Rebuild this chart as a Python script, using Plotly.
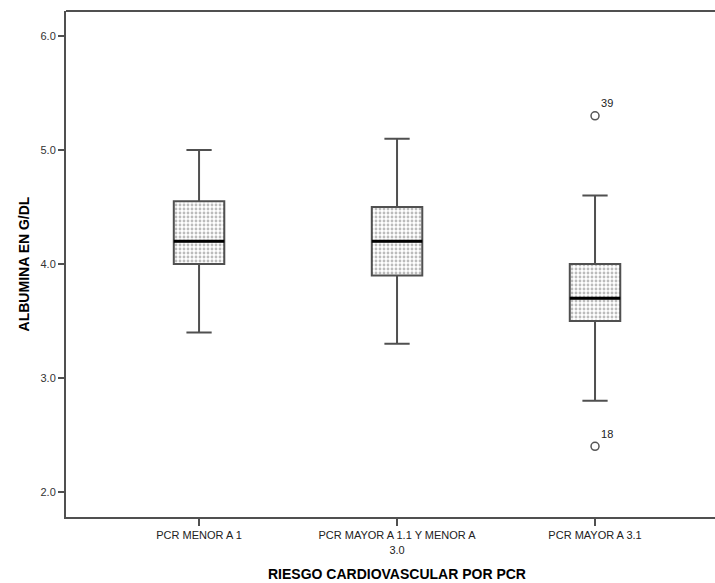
import plotly.graph_objects as go

categories = ["PCR MENOR A 1", "PCR MAYOR A 1.1 Y MENOR A<br>3.0", "PCR MAYOR A 3.1"]
lower_whisker = [3.4, 3.3, 2.8]
q1 = [4.0, 3.9, 3.5]
median = [4.2, 4.2, 3.7]
q3 = [4.55, 4.5, 4.0]
upper_whisker = [5.0, 5.1, 4.6]
outlier_cat = [2, 2]
outlier_val = [5.3, 2.4]
outlier_lbl = ["39", "18"]
y_ticks = [2.0, 3.0, 4.0, 5.0, 6.0]

xpos = list(range(len(categories)))
BW = 0.255
LINE = "#505050"

fig = go.Figure()

# dotted-pattern fill of the boxes
fig.add_trace(go.Bar(
    x=xpos, y=[b - a for a, b in zip(q1, q3)], base=q1, width=BW,
    marker=dict(color="white", line=dict(width=0),
                pattern=dict(shape=".", fgcolor="#7a7a7a", bgcolor="white",
                             size=4, solidity=0.4)),
    hoverinfo="skip", showlegend=False))

fig.add_trace(go.Box(
    x=xpos, q1=q1, median=median, q3=q3,
    lowerfence=lower_whisker, upperfence=upper_whisker,
    width=BW, whiskerwidth=0.5, boxpoints=False,
    fillcolor="rgba(0,0,0,0)", line=dict(color=LINE, width=2),
    showlegend=False))

# thick median lines
for i, m in enumerate(median):
    fig.add_trace(go.Scatter(
        x=[xpos[i] - BW / 2, xpos[i] + BW / 2], y=[m, m], mode="lines",
        line=dict(color="black", width=3), hoverinfo="skip", showlegend=False))

fig.add_trace(go.Scatter(
    x=outlier_cat, y=outlier_val, mode="markers+text",
    marker=dict(symbol="circle-open", size=8, color="#555555", line=dict(width=1.5)),
    text=outlier_lbl, textposition="top right",
    textfont=dict(family="Liberation Sans, Arial", size=11, color="#222222"),
    showlegend=False))

fig.add_annotation(
    x=1, xref="x", y=0, yref="paper", yshift=-47, yanchor="top",
    text="<b>RIESGO CARDIOVASCULAR POR PCR</b>", showarrow=False,
    font=dict(family="Liberation Sans, Arial", size=14, color="black"))

fig.add_shape(type="line", xref="paper", yref="paper", x0=0, x1=1, y0=1, y1=1,
              line=dict(color=LINE, width=2))

fig.update_layout(
    width=715, height=583,
    margin=dict(l=66, r=0, t=11, b=66),
    plot_bgcolor="white", paper_bgcolor="white",
    barmode="overlay", boxmode="overlay",
    font=dict(family="Liberation Sans, Arial", size=11, color="#222222"),
    xaxis=dict(range=[-0.672, 2.606], tickvals=xpos, ticktext=categories,
               showgrid=False, zeroline=False, showline=True, linecolor=LINE,
               linewidth=2, ticks="outside", ticklen=7, tickcolor=LINE, tickwidth=1.5,
               tickfont=dict(size=11, color="#222222")),
    yaxis=dict(range=[1.78, 6.22], tickvals=y_ticks, ticktext=[f"{v:.1f}" for v in y_ticks],
               showgrid=False, zeroline=False, showline=True, linecolor=LINE,
               linewidth=2, ticks="outside", ticklen=6, tickcolor=LINE, tickwidth=1.5,
               tickfont=dict(size=11, color="#333333"),
               title=dict(text="<b>ALBUMINA EN G/DL</b>", standoff=8,
                          font=dict(size=14, color="black"))),
)

fig.write_html("out.html")
